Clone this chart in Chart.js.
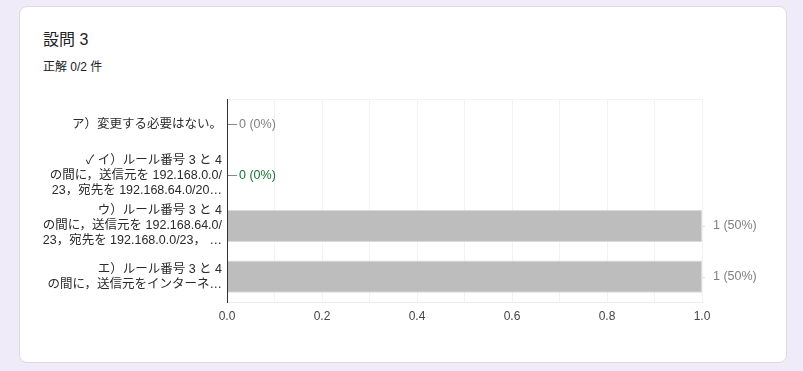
<!DOCTYPE html>
<html><head><meta charset="utf-8">
<script src="https://cdn.jsdelivr.net/npm/chart.js@4"></script>
<style>
html,body{margin:0;padding:0;background:#f0ebf8;width:803px;height:371px;overflow:hidden;font-family:"Liberation Sans","Noto Sans CJK JP",sans-serif;}
.card{position:absolute;left:19px;top:6px;width:766px;height:355px;background:#fff;border:1px solid #dadce0;border-radius:8px;}
.title{position:absolute;left:23px;top:19px;font-size:16px;color:#202124;}
.sub{position:absolute;left:23px;top:50px;font-size:12px;color:#202124;}
canvas{position:absolute;left:0;top:72px;}
</style></head><body>
<div class="card">
<div class="title">設問 3</div>
<div class="sub">正解 0/2 件</div>
<canvas id="c" width="766" height="270"></canvas>
</div>
<script>
const categories = [
  ["ア）変更する必要はない。"],
  ["✓ イ）ルール番号 3 と 4","の間に，送信元を 192.168.0.0/","23，宛先を 192.168.64.0/20…"],
  ["ウ）ルール番号 3 と 4","の間に，送信元を 192.168.64.0/","23，宛先を 192.168.0.0/23， …"],
  ["エ）ルール番号 3 と 4","の間に，送信元をインターネ…"]
];
const counts = [0, 0, 1, 1];
const percents = [0, 0, 50, 50];
const correct = [false, true, false, false];
const xTickLabels = ["0.0","0.2","0.4","0.6","0.8","1.0"];

const labelPlugin = {
  id: 'vlabels',
  afterDatasetsDraw(chart) {
    const ctx = chart.ctx;
    const meta = chart.getDatasetMeta(0);
    const area = chart.chartArea;
    ctx.save();
    ctx.strokeStyle = '#f3f3f3';
    ctx.lineWidth = 1;
    ctx.beginPath();
    ctx.moveTo(area.left, area.top + 0.5);
    ctx.lineTo(area.right, area.top + 0.5);
    ctx.stroke();
    ctx.font = '12.5px "Liberation Sans","Noto Sans CJK JP",sans-serif';
    ctx.textBaseline = 'middle';
    meta.data.forEach((el, i) => {
      const x = el.x, y = el.y;
      const col = correct[i] ? '#137333' : '#808080';
      ctx.strokeStyle = counts[i] === 0 ? '#888' : '#ddd';
      ctx.beginPath();
      ctx.moveTo(x, Math.round(y) + 0.5);
      ctx.lineTo(x + (counts[i] === 0 ? 10 : 3), Math.round(y) + 0.5);
      ctx.stroke();
      ctx.fillStyle = col;
      ctx.fillText(counts[i] + ' (' + percents[i] + '%)', x + (counts[i] === 0 ? 12 : 11), y);
    });
    ctx.restore();
  }
};

new Chart(document.getElementById('c'), {
  type: 'bar',
  data: {
    labels: categories,
    datasets: [{
      data: counts,
      backgroundColor: '#bdbdbd',
      borderColor: '#dadada',
      borderWidth: 1,
      borderSkipped: 'start',
      categoryPercentage: 1,
      barPercentage: 0.64
    }]
  },
  options: {
    indexAxis: 'y',
    responsive: false,
    animation: false,
    devicePixelRatio: 1,
    layout: { padding: { top: 19, right: 84, bottom: 17, left: 0 } },
    plugins: { legend: { display: false }, tooltip: { enabled: false } },
    scales: {
      x: {
        min: 0, max: 1,
        ticks: {
          stepSize: 0.1,
          autoSkip: false,
          maxRotation: 0,
          padding: 7,
          color: '#444',
          font: { size: 12, family: '"Liberation Sans","Noto Sans CJK JP",sans-serif' },
          callback: (v) => {
            const k = Math.round(v * 10);
            return k % 2 === 0 ? xTickLabels[k / 2] : '';
          }
        },
        grid: { color: '#f2f2f2', drawTicks: false },
        border: { color: '#ececec' },
        afterFit: (s) => { s.height = 30; }
      },
      y: {
        ticks: {
          padding: 5,
          color: '#2a2a2a',
          autoSkip: false,
          font: { size: 12.5, family: '"Liberation Sans","Noto Sans CJK JP",sans-serif', lineHeight: 1.2 }
        },
        grid: { display: false, drawTicks: false },
        border: { display: true, color: '#333', width: 1, z: 1 },
        afterFit: (s) => { s.width = 207; }
      }
    }
  },
  plugins: [labelPlugin]
});
</script>
</body></html>
